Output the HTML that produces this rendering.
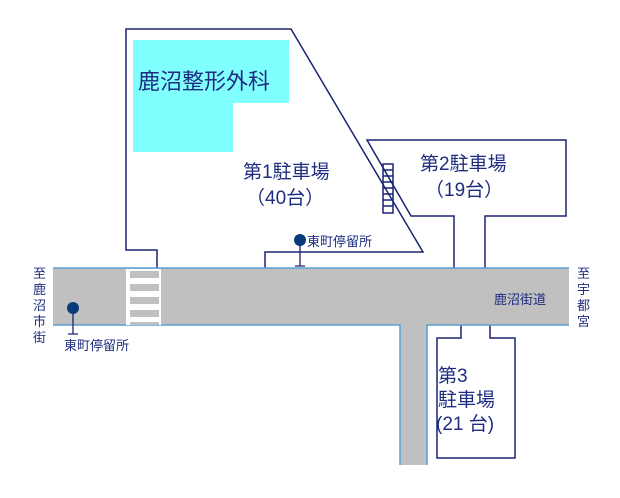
<!DOCTYPE html><html><head><meta charset="utf-8"><style>body{margin:0;background:#fff}svg{display:block}text{font-family:"Liberation Sans","Noto Sans CJK JP",sans-serif;fill:#1f2d80}</style></head><body>
<svg width="620" height="498" viewBox="0 0 620 498" xmlns="http://www.w3.org/2000/svg">
<rect x="133" y="40" width="156" height="63" fill="#80ffff"/><rect x="133" y="103" width="100" height="49" fill="#80ffff"/>
<g fill="none" stroke="#1a2470" stroke-width="1.5">
<polyline points="157,268 157,250 126,250 126,29 291,29 423,252 265,252 265,268"/>
<polyline points="454,268 454,216 411,216 367,140 566,140 566,216 485,216 485,268"/>
<polyline points="461,325 461,338 437,338 437,458 515,458 515,338 490,338 490,325"/>
<rect x="383" y="164" width="10" height="49"/>
<path d="M383,170h10M383,176h10M383,182h10M383,188h10M383,194h10M383,200h10M383,206h10"/>
</g>
<rect x="53" y="268" width="516" height="57" fill="#c0c0c0"/>
<rect x="400" y="325" width="27" height="140" fill="#c0c0c0"/>
<g stroke="#5a9fd0" stroke-width="1.5" fill="none"><path d="M53,268H569M53,325H400V465M427,465V325H569"/></g>
<g fill="#fff"><rect x="126" y="269" width="35" height="56"/></g>
<g fill="#c0c0c0"><rect x="130" y="271" width="29" height="7"/><rect x="130" y="284" width="29" height="7"/><rect x="130" y="297" width="29" height="7"/><rect x="130" y="310" width="29" height="7"/><rect x="130" y="322" width="29" height="3"/></g>
<g stroke="#1a2470" stroke-width="1.3"><path d="M300,240V266M295,266h10M73,308V334M68,334h10"/></g>
<circle cx="300" cy="240" r="6" fill="#0b3a7a"/><circle cx="73" cy="308" r="6" fill="#0b3a7a"/>
<text x="138" y="89" font-size="22">鹿沼整形外科</text>
<text x="243" y="178" font-size="19">第1駐車場</text>
<text x="246" y="204" font-size="19">（40台）</text>
<text x="420" y="170" font-size="19">第2駐車場</text>
<text x="425" y="196" font-size="19">（19台）</text>
<text x="438" y="382" font-size="19">第3</text>
<text x="438" y="406" font-size="19">駐車場</text>
<text x="436" y="430" font-size="19">(21 台)</text>
<text x="307" y="246" font-size="13">東町停留所</text>
<text x="64" y="350" font-size="13">東町停留所</text>
<text x="494" y="304" font-size="13">鹿沼街道</text>
<g font-size="13"><text x="33" y="278">至</text><text x="33" y="294">鹿</text><text x="33" y="310">沼</text><text x="33" y="326">市</text><text x="33" y="342">街</text>
<text x="577" y="278">至</text><text x="577" y="294">宇</text><text x="577" y="310">都</text><text x="577" y="326">宮</text></g>
</svg></body></html>
